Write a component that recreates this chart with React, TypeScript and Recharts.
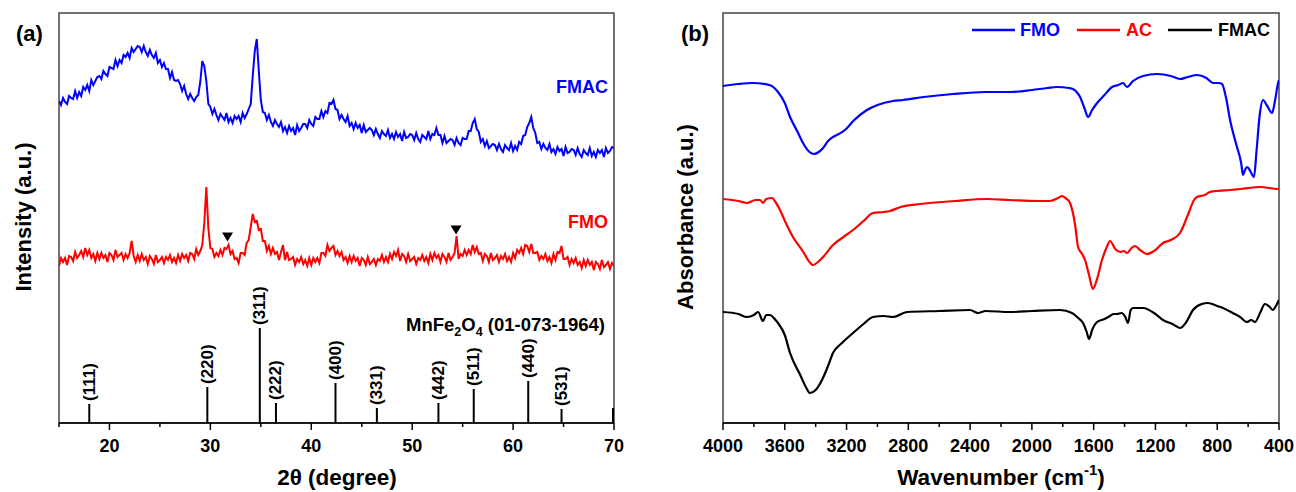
import React from "react";
import {
  ComposedChart,
  Line,
  Scatter,
  XAxis,
  YAxis,
  ReferenceArea,
  ReferenceLine,
} from "recharts";

// ---------- Panel (a): XRD ----------
const twoTheta = [
  15, 15.2, 15.4, 15.6, 15.8, 16, 16.2, 16.4, 16.6, 16.8, 17, 17.2, 17.4, 17.6, 17.8,
  18, 18.2, 18.4, 18.6, 18.8, 19, 19.2, 19.4, 19.6, 19.8, 20, 20.2, 20.4, 20.6, 20.8,
  21, 21.2, 21.4, 21.6, 21.8, 22, 22.2, 22.4, 22.6, 22.8, 23, 23.2, 23.4, 23.6, 23.8,
  24, 24.2, 24.4, 24.6, 24.8, 25, 25.2, 25.4, 25.6, 25.8, 26, 26.2, 26.4, 26.6, 26.8,
  27, 27.2, 27.4, 27.6, 27.8, 28, 28.2, 28.4, 28.6, 28.8, 29, 29.2, 29.4, 29.6, 29.8,
  30, 30.2, 30.4, 30.6, 30.8, 31, 31.2, 31.4, 31.6, 31.8, 32, 32.2, 32.4, 32.6, 32.8,
  33, 33.2, 33.4, 33.6, 33.8, 34, 34.2, 34.4, 34.6, 34.8, 35, 35.2, 35.4, 35.6, 35.8,
  36, 36.2, 36.4, 36.6, 36.8, 37, 37.2, 37.4, 37.6, 37.8, 38, 38.2, 38.4, 38.6, 38.8,
  39, 39.2, 39.4, 39.6, 39.8, 40, 40.2, 40.4, 40.6, 40.8, 41, 41.2, 41.4, 41.6, 41.8,
  42, 42.2, 42.4, 42.6, 42.8, 43, 43.2, 43.4, 43.6, 43.8, 44, 44.2, 44.4, 44.6, 44.8,
  45, 45.2, 45.4, 45.6, 45.8, 46, 46.2, 46.4, 46.6, 46.8, 47, 47.2, 47.4, 47.6, 47.8,
  48, 48.2, 48.4, 48.6, 48.8, 49, 49.2, 49.4, 49.6, 49.8, 50, 50.2, 50.4, 50.6, 50.8,
  51, 51.2, 51.4, 51.6, 51.8, 52, 52.2, 52.4, 52.6, 52.8, 53, 53.2, 53.4, 53.6, 53.8,
  54, 54.2, 54.4, 54.6, 54.8, 55, 55.2, 55.4, 55.6, 55.8, 56, 56.2, 56.4, 56.6, 56.8,
  57, 57.2, 57.4, 57.6, 57.8, 58, 58.2, 58.4, 58.6, 58.8, 59, 59.2, 59.4, 59.6, 59.8,
  60, 60.2, 60.4, 60.6, 60.8, 61, 61.2, 61.4, 61.6, 61.8, 62, 62.2, 62.4, 62.6, 62.8,
  63, 63.2, 63.4, 63.6, 63.8, 64, 64.2, 64.4, 64.6, 64.8, 65, 65.2, 65.4, 65.6, 65.8,
  66, 66.2, 66.4, 66.6, 66.8, 67, 67.2, 67.4, 67.6, 67.8, 68, 68.2, 68.4, 68.6, 68.8,
  69, 69.2, 69.4, 69.6, 69.8, 70,
];

const fmacXrd = [
  322, 318, 325, 321, 319, 327, 325, 324, 332, 325, 331, 327, 336, 333, 338,
  332, 343, 338, 342, 346, 347, 344, 352, 349, 347, 356, 355, 354, 363, 357,
  363, 360, 368, 366, 370, 365, 375, 371, 374, 377, 376, 371, 377, 371, 367,
  373, 368, 365, 370, 360, 363, 356, 360, 354, 354, 345, 351, 343, 342, 343,
  339, 332, 337, 329, 324, 329, 325, 322, 326, 328, 341, 362, 357, 342, 319,
  316, 309, 314, 308, 303, 309, 306, 303, 310, 301, 305, 300, 307, 304, 307,
  301, 310, 305, 309, 314, 319, 347, 372, 384, 352, 323, 311, 310, 303, 308,
  301, 297, 303, 299, 296, 301, 292, 296, 290, 297, 292, 295, 288, 298, 292,
  295, 299, 299, 295, 303, 299, 297, 306, 304, 304, 312, 306, 312, 310, 320,
  319, 323, 314, 313, 304, 308, 304, 301, 307, 297, 300, 294, 300, 295, 298,
  290, 298, 291, 293, 295, 293, 288, 294, 289, 285, 292, 289, 287, 293, 285,
  289, 284, 291, 286, 289, 282, 291, 285, 286, 289, 288, 283, 290, 284, 281,
  288, 286, 284, 292, 284, 289, 288, 295, 288, 288, 280, 287, 280, 282, 284,
  283, 278, 285, 280, 278, 285, 284, 284, 292, 292, 300, 304, 294, 291, 281,
  284, 277, 282, 275, 277, 279, 278, 273, 279, 274, 271, 278, 275, 273, 280,
  272, 277, 273, 281, 279, 287, 288, 296, 300, 306, 295, 290, 280, 281, 274,
  279, 275, 273, 279, 271, 274, 269, 276, 272, 274, 267, 276, 270, 271, 274,
  273, 268, 275, 269, 266, 273, 270, 268, 275, 267, 271, 266, 273, 270, 273,
  266, 275, 270, 272, 276, 275,
];

const fmoXrd = [
  157, 165, 161, 165, 158, 167, 166, 162, 171, 165, 168, 172, 166, 175, 168,
  173, 165, 169, 162, 170, 164, 170, 165, 168, 161, 170, 168, 163, 173, 166,
  168, 170, 163, 169, 165, 170, 182, 167, 161, 168, 162, 169, 163, 166, 159,
  167, 164, 159, 168, 161, 163, 166, 160, 166, 163, 168, 161, 165, 160, 168,
  162, 169, 165, 168, 162, 170, 169, 164, 174, 168, 172, 178, 200, 236, 195,
  175, 174, 166, 170, 167, 173, 168, 175, 174, 178, 169, 172, 164, 165, 160,
  170, 170, 168, 180, 183, 196, 209, 201, 202, 193, 194, 182, 182, 172, 177,
  169, 175, 169, 171, 163, 171, 178, 163, 171, 163, 164, 166, 158, 164, 161,
  166, 159, 163, 157, 165, 158, 165, 161, 165, 160, 170, 170, 167, 178, 172,
  175, 177, 168, 172, 167, 171, 163, 166, 160, 167, 161, 167, 162, 165, 157,
  165, 163, 158, 166, 159, 161, 164, 158, 164, 162, 168, 161, 166, 161, 169,
  164, 171, 167, 173, 162, 169, 167, 161, 169, 162, 164, 166, 159, 165, 163,
  168, 162, 166, 160, 169, 163, 170, 165, 168, 161, 169, 166, 161, 170, 163,
  166, 170, 187, 164, 169, 167, 173, 168, 173, 169, 178, 171, 176, 169, 170,
  162, 169, 167, 161, 170, 163, 165, 168, 161, 167, 164, 169, 162, 166, 161,
  170, 165, 173, 170, 175, 169, 178, 177, 171, 179, 170, 170, 171, 163, 167,
  164, 169, 162, 166, 160, 169, 163, 171, 170, 177, 164, 164, 166, 158, 164,
  160, 165, 158, 161, 155, 163, 157, 163, 158, 161, 153, 161, 159, 154, 163,
  156, 158, 161, 154, 160, 157,
];

const refAngle = [18.0, 29.7, 34.9, 36.5, 42.4, 46.5, 52.6, 56.1, 61.5, 64.8, 69.9];
const refHeight = [19, 36, 95, 20, 40, 15, 20, 34, 42, 14, 15];
const refHkl = ["(111)", "(220)", "(311)", "(222)", "(400)", "(331)", "(442)", "(511)", "(440)", "(531)", ""];

const markerAngle = [31.7, 54.35];
const markerLevel = [186, 193];

const xrdTicks = [15, 20, 25, 30, 35, 40, 45, 50, 55, 60, 65, 70];

// ---------- Panel (b): FTIR ----------
const fmoWave = [4000, 3900, 3806, 3700, 3644, 3600, 3566, 3520, 3482, 3440, 3411, 3380, 3352, 3320, 3288, 3250, 3210, 3150, 3068, 3000, 2900, 2834, 2700, 2511, 2300, 2142, 2000, 1900, 1838, 1760, 1734, 1700, 1688, 1660, 1636, 1610, 1578, 1530, 1481, 1440, 1410, 1384, 1345, 1280, 1190, 1100, 1041, 990, 931, 870, 827, 790, 769, 740, 717, 690, 672, 645, 633, 620, 607, 590, 562, 545, 525, 503, 480, 445, 425, 406, 400];
const fmoAbs = [337, 339, 340, 338, 331, 320, 306, 292, 280, 271, 269, 271, 275, 282, 286, 289, 293, 303, 313, 318, 322, 323, 326, 329, 331, 331, 333, 335, 336, 335, 334, 329, 326, 315, 306, 313, 320, 328, 336, 338, 340, 336, 342, 347, 349, 347, 344, 346, 348, 345, 340, 340, 339, 323, 303, 286, 276, 260, 248, 253, 256, 253, 246, 273, 308, 323, 318, 310, 323, 340, 343];

const acWave = [4000, 3900, 3845, 3790, 3760, 3741, 3720, 3683, 3660, 3631, 3590, 3547, 3480, 3440, 3417, 3385, 3352, 3288, 3220, 3158, 3090, 3029, 2960, 2919, 2850, 2724, 2500, 2290, 2142, 1960, 1883, 1830, 1805, 1775, 1753, 1720, 1701, 1675, 1656, 1630, 1605, 1580, 1546, 1515, 1494, 1460, 1429, 1405, 1384, 1355, 1332, 1300, 1255, 1200, 1151, 1100, 1041, 990, 950, 931, 880, 847, 800, 717, 650, 523, 406, 400];
const acAbs = [224, 222, 220, 223, 223, 220, 224, 225, 221, 213, 199, 186, 171, 161, 158, 161, 166, 178, 186, 193, 202, 210, 211, 212, 216, 219, 222, 224, 223, 222, 222, 225, 227, 224, 220, 198, 176, 169, 163, 148, 134, 143, 163, 176, 182, 174, 171, 172, 170, 175, 177, 173, 169, 173, 180, 183, 190, 208, 223, 226, 228, 231, 232, 233, 234, 236, 234, 234];

const fmacWave = [4000, 3900, 3845, 3800, 3773, 3741, 3720, 3696, 3660, 3644, 3600, 3566, 3500, 3460, 3437, 3400, 3359, 3320, 3288, 3230, 3158, 3090, 3029, 2960, 2899, 2809, 2600, 2401, 2349, 2300, 2142, 2000, 1818, 1740, 1700, 1669, 1645, 1630, 1610, 1578, 1530, 1494, 1470, 1449, 1420, 1395, 1378, 1360, 1345, 1280, 1200, 1151, 1090, 1041, 1000, 957, 900, 860, 800, 763, 700, 652, 607, 580, 555, 520, 491, 460, 439, 420, 400];
const fmacAbs = [111, 109, 106, 108, 111, 102, 108, 108, 103, 100, 88, 70, 48, 35, 30, 33, 43, 57, 70, 80, 90, 99, 106, 107, 106, 111, 112, 113, 110, 112, 111, 112, 113, 110, 105, 100, 91, 84, 93, 101, 104, 107, 109, 109, 110, 106, 100, 113, 115, 115, 109, 103, 99, 95, 101, 113, 119, 120, 117, 115, 110, 106, 101, 103, 101, 111, 119, 116, 113, 117, 123];

const ftirTicks = [4000, 3800, 3600, 3400, 3200, 3000, 2800, 2600, 2400, 2200, 2000, 1800, 1600, 1400, 1200, 1000, 800, 600, 400];

// ---------- built tables ----------
const xrdRows = twoTheta.map((a, i) => ({ angle: a, fmac: fmacXrd[i], fmo: fmoXrd[i] }));
const refRows = refAngle.map((a, i) => ({ angle: a, height: refHeight[i], hkl: refHkl[i] }));
const markerRows = markerAngle.map((a, i) => ({ angle: a, level: markerLevel[i] }));
const fmoRows = fmoWave.map((w, i) => ({ w, v: fmoAbs[i] }));
const acRows = acWave.map((w, i) => ({ w, v: acAbs[i] }));
const fmacRows = fmacWave.map((w, i) => ({ w, v: fmacAbs[i] }));

const FONT = "'Liberation Sans', Arial, Helvetica, sans-serif";

const makeTick = (majorEvery: number) => (props: any) => {
  const { x, y, payload } = props;
  const major = payload.value % majorEvery === 0;
  return (
    <g>
      <line x1={x} x2={x} y1={y} y2={y + (major ? 7 : 4)} stroke="#000" strokeWidth={1.5} />
      {major && (
        <text x={x} y={y + 29} textAnchor="middle" fontFamily={FONT} fontWeight="bold" fontSize={18} fill="#000">
          {payload.value}
        </text>
      )}
    </g>
  );
};

const StickLabel = (p: any) => {
  const { cx, cy, payload } = p;
  if (!payload || !payload.hkl) return <g />;
  return (
    <text
      transform={`translate(${cx},${cy - 3}) rotate(-90)`}
      textAnchor="start"
      dominantBaseline="central"
      fontFamily={FONT}
      fontWeight="bold"
      fontSize={17}
      fill="#000"
    >
      {payload.hkl}
    </text>
  );
};

const Triangle = (p: any) => {
  const { cx, cy } = p;
  return <path d={`M${cx - 5.5},${cy - 4.5} L${cx + 5.5},${cy - 4.5} L${cx},${cy + 4.5} Z`} fill="#000" />;
};

export default function App() {
  return (
    <div style={{ position: "absolute", left: 0, top: 0, width: 1296, height: 492, background: "#fff", fontFamily: FONT }}>
      <div style={{ position: "absolute", left: 0, top: 0 }}>
        <ComposedChart width={648} height={492} data={xrdRows} margin={{ top: 13, right: 34, bottom: 9, left: 59 }}>
          <ReferenceArea x1={15} x2={70} y1={0} y2={410} fill="none" stroke="#444" strokeWidth={1.5} ifOverflow="visible" />
          <XAxis
            dataKey="angle"
            type="number"
            domain={[15, 70]}
            ticks={xrdTicks}
            interval={0}
            tickSize={0}
            tickMargin={0}
            tickLine={false}
            height={60}
            allowDataOverflow
            axisLine={{ stroke: "#000", strokeWidth: 1.5 }}
            tick={makeTick(10)}
          />
          <YAxis type="number" domain={[0, 410]} hide allowDataOverflow />
          <Line dataKey="fmac" type="linear" stroke="#0000ff" strokeWidth={2} dot={false} isAnimationActive={false} />
          <Line dataKey="fmo" type="linear" stroke="#ff0000" strokeWidth={2} dot={false} isAnimationActive={false} />
          {refRows.map((r) => (
            <ReferenceLine
              key={r.angle}
              segment={[{ x: r.angle, y: 0 }, { x: r.angle, y: r.height }]}
              stroke="#000"
              strokeWidth={2}
            />
          ))}
          <Scatter data={refRows} dataKey="height" shape={StickLabel} isAnimationActive={false} />
          <Scatter data={markerRows} dataKey="level" shape={Triangle} isAnimationActive={false} />
        </ComposedChart>
      </div>
      <div style={{ position: "absolute", left: 648, top: 0 }}>
        <ComposedChart width={648} height={492} margin={{ top: 13, right: 17, bottom: 9, left: 75 }}>
          <ReferenceArea x1={400} x2={4000} y1={0} y2={410} fill="none" stroke="#444" strokeWidth={1.5} ifOverflow="visible" />
          <XAxis
            dataKey="w"
            type="number"
            domain={[400, 4000]}
            reversed
            ticks={ftirTicks}
            interval={0}
            tickSize={0}
            tickMargin={0}
            tickLine={false}
            height={60}
            allowDataOverflow
            axisLine={{ stroke: "#000", strokeWidth: 1.5 }}
            tick={makeTick(400)}
          />
          <YAxis type="number" domain={[0, 410]} hide allowDataOverflow />
          <Line data={fmoRows} dataKey="v" type="monotone" stroke="#0000ff" strokeWidth={2.2} dot={false} isAnimationActive={false} />
          <Line data={acRows} dataKey="v" type="monotone" stroke="#ff0000" strokeWidth={2.2} dot={false} isAnimationActive={false} />
          <Line data={fmacRows} dataKey="v" type="monotone" stroke="#000000" strokeWidth={2.2} dot={false} isAnimationActive={false} />
        </ComposedChart>
      </div>
      <svg width={1296} height={492} style={{ position: "absolute", left: 0, top: 0, pointerEvents: "none" }} fontFamily={FONT} fontWeight="bold">
        <text x={16} y={41} fontSize={22}>(a)</text>
        <text x={681} y={41} fontSize={22}>(b)</text>
        <text transform="translate(23,217) rotate(-90)" textAnchor="middle" dominantBaseline="central" fontSize={22}>Intensity (a.u.)</text>
        <text transform="translate(685,217) rotate(-90)" textAnchor="middle" dominantBaseline="central" fontSize={22}>Absorbance (a.u.)</text>
        <text x={337} y={485} textAnchor="middle" fontSize={22.5}>2θ (degree)</text>
        <text x={1001} y={485} textAnchor="middle" fontSize={22.5}>
          Wavenumber (cm<tspan fontSize={15} dy={-10}>-1</tspan><tspan dy={10}>)</tspan>
        </text>
        <text x={608} y={93} textAnchor="end" fontSize={18} fill="#0000ff">FMAC</text>
        <text x={608} y={228} textAnchor="end" fontSize={18} fill="#ff0000">FMO</text>
        <text x={406} y={331} fontSize={18.5} fill="#000">
          MnFe<tspan fontSize={12.5} dy={5}>2</tspan><tspan dy={-5}>O</tspan><tspan fontSize={12.5} dy={5}>4</tspan><tspan dy={-5}> (01-073-1964)</tspan>
        </text>
        <line x1={972} x2={1015} y1={30} y2={30} stroke="#0000ff" strokeWidth={2.5} />
        <text x={1020} y={36} fontSize={18} fill="#0000ff">FMO</text>
        <line x1={1077} x2={1120} y1={30} y2={30} stroke="#ff0000" strokeWidth={2.5} />
        <text x={1126} y={36} fontSize={18} fill="#ff0000">AC</text>
        <line x1={1168} x2={1212} y1={30} y2={30} stroke="#000" strokeWidth={2.5} />
        <text x={1218} y={36} fontSize={18} fill="#000">FMAC</text>
      </svg>
    </div>
  );
}
